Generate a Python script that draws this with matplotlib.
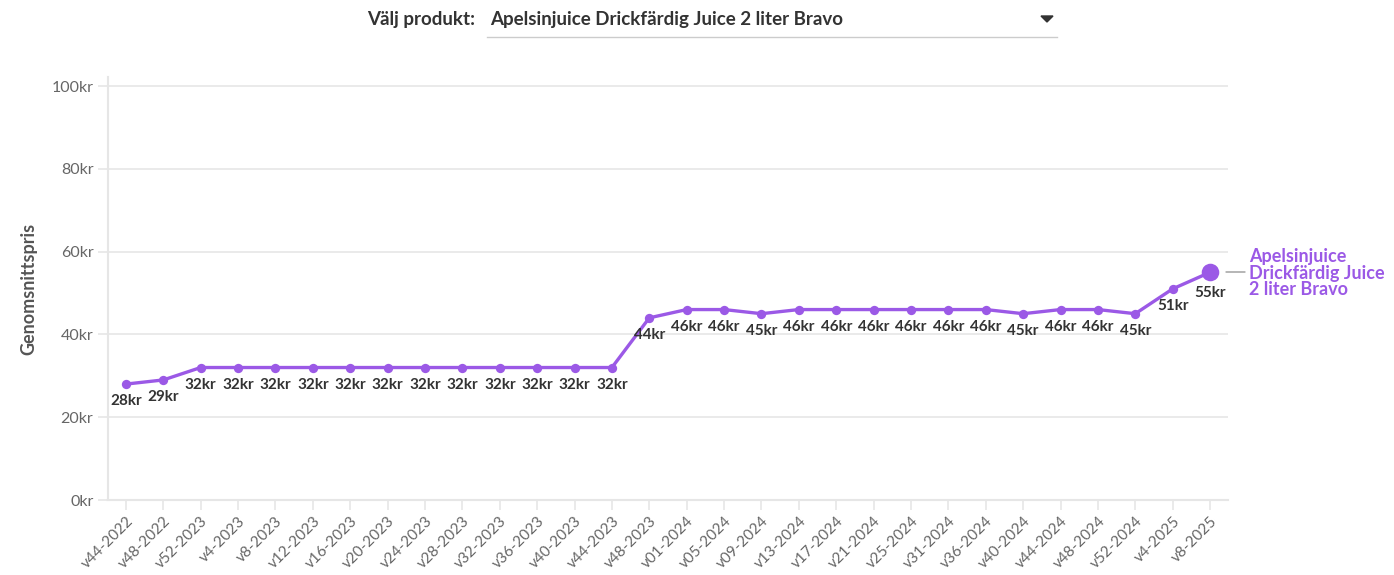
import matplotlib.pyplot as plt
import numpy as np

weeks = ["v44-2022", "v48-2022", "v52-2023", "v4-2023", "v8-2023", "v12-2023",
         "v16-2023", "v20-2023", "v24-2023", "v28-2023", "v32-2023", "v36-2023",
         "v40-2023", "v44-2023", "v48-2023", "v01-2024", "v05-2024", "v09-2024",
         "v13-2024", "v17-2024", "v21-2024", "v25-2024", "v31-2024", "v36-2024",
         "v40-2024", "v44-2024", "v48-2024", "v52-2024", "v4-2025", "v8-2025"]
prices = [28, 29, 32, 32, 32, 32, 32, 32, 32, 32, 32, 32, 32, 32, 44,
          46, 46, 45, 46, 46, 46, 46, 46, 46, 45, 46, 46, 45, 51, 55]
product = "Apelsinjuice Drickfärdig Juice 2 liter Bravo"
series_label = "Apelsinjuice\nDrickfärdig Juice\n2 liter Bravo"
yticks = [0, 20, 40, 60, 80, 100]

purple = "#9b59e6"
grid_c = "#e6e6e6"
plt.rcParams['font.family'] = ['Lato', 'DejaVu Sans']

W, H = 1394, 575
fig = plt.figure(figsize=(W / 100, H / 100), dpi=100)
ax = fig.add_axes([108 / W, 1 - 500 / H, (1228 - 108) / W, (500 - 77) / H])

x = np.arange(len(prices))
ax.plot(x, prices, color=purple, lw=2.4, zorder=3, solid_capstyle='round')
ax.scatter(x[:-1], prices[:-1], s=45, color=purple, zorder=4, linewidths=0)
ax.scatter(x[-1:], prices[-1:], s=160, color=purple, zorder=4, linewidths=0)

for i, p in enumerate(prices):
    off = -21 if i == len(prices) - 1 else -17
    ax.annotate(f"{p}kr", (i, p), xytext=(0, off), textcoords='offset pixels',
                ha='center', va='center', fontsize=11, fontweight='bold',
                color='#333333', zorder=5)

ax.set_xlim(-0.48, len(prices) - 1 + 0.48)
ax.set_ylim(0, 100 * (500 - 77) / (500 - 86))
ax.set_yticks(yticks)
ax.set_yticklabels([f"{t}kr" for t in yticks])
ax.set_xticks(x)
ax.set_xticklabels(weeks, rotation=45, ha='right', va='top',
                   rotation_mode='anchor')
ax.grid(axis='y', color=grid_c, lw=1.2)
ax.set_axisbelow(True)
for s in ['top', 'right']:
    ax.spines[s].set_visible(False)
for s in ['left', 'bottom']:
    ax.spines[s].set_color(grid_c)
    ax.spines[s].set_linewidth(1.5)
ax.tick_params(axis='both', colors=grid_c, labelcolor='#666666',
               labelsize=11.5, length=7, width=1.2)
ax.tick_params(axis='x', pad=3, labelsize=11)
ax.set_ylabel("Genomsnittspris", fontsize=13, fontweight='bold',
              color='#555555', labelpad=10)

# series label at the end of the line
ax.annotate("", xy=(1226 / W, 1 - 272 / H), xycoords='figure fraction',
            xytext=(1245 / W, 1 - 272 / H),
            arrowprops=dict(arrowstyle='-', color='#999999', lw=1,
                            shrinkA=0, shrinkB=0))
fig.text(1249 / W, 1 - 273 / H, series_label, ha='left', va='center',
         fontsize=13, fontweight='bold', color=purple, linespacing=0.98)

# product selector header
fig.text(475 / W, 1 - 19 / H, "Välj produkt:", ha='right', va='center',
         fontsize=13.5, fontweight='bold', color='#333333')
fig.text(490 / W, 1 - 19 / H, product, ha='left', va='center',
         fontsize=13.5, fontweight='bold', color='#333333')
fig.add_artist(plt.Line2D([487 / W, 1057 / W], [1 - 37 / H, 1 - 37 / H],
                          color='#cccccc', lw=1))
fig.add_artist(plt.Polygon([[1041 / W, 1 - 16 / H], [1053 / W, 1 - 16 / H],
                            [1047 / W, 1 - 22 / H]], closed=True,
                           color='#333333'))

fig.savefig("out.png", dpi=100)
